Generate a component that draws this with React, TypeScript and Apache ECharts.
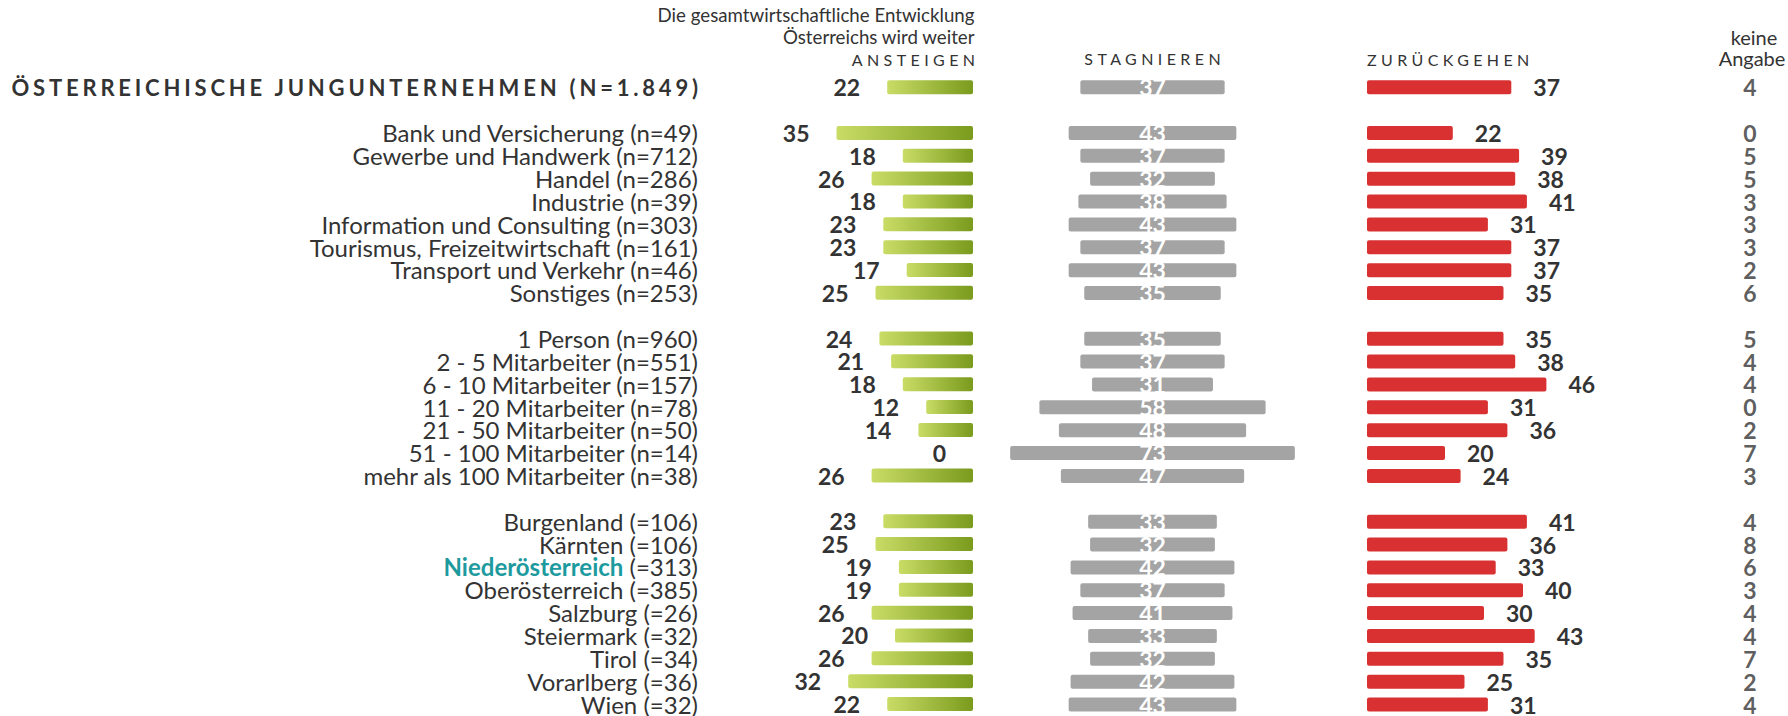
import React, { useEffect, useRef } from "react";
import * as echarts from "echarts";

const categories = [
  "ÖSTERREICHISCHE JUNGUNTERNEHMEN (N=1.849)",
  " ",
  "Bank und Versicherung (n=49)",
  "Gewerbe und Handwerk (n=712)",
  "Handel (n=286)",
  "Industrie (n=39)",
  "Information und Consulting (n=303)",
  "Tourismus, Freizeitwirtschaft (n=161)",
  "Transport und Verkehr (n=46)",
  "Sonstiges (n=253)",
  "  ",
  "1 Person (n=960)",
  "2 - 5 Mitarbeiter (n=551)",
  "6 - 10 Mitarbeiter (n=157)",
  "11 - 20 Mitarbeiter (n=78)",
  "21 - 50 Mitarbeiter (n=50)",
  "51 - 100 Mitarbeiter (n=14)",
  "mehr als 100 Mitarbeiter (n=38)",
  "   ",
  "Burgenland (=106)",
  "Kärnten (=106)",
  "Niederösterreich (=313)",
  "Oberösterreich (=385)",
  "Salzburg (=26)",
  "Steiermark (=32)",
  "Tirol (=34)",
  "Vorarlberg (=36)",
  "Wien (=32)",
];

const ansteigen = [22, null, 35, 18, 26, 18, 23, 23, 17, 25, null, 24, 21, 18, 12, 14, 0, 26, null, 23, 25, 19, 19, 26, 20, 26, 32, 22];
const stagnieren = [37, null, 43, 37, 32, 38, 43, 37, 43, 35, null, 35, 37, 31, 58, 48, 73, 47, null, 33, 32, 42, 37, 41, 33, 32, 42, 43];
const zurueckgehen = [37, null, 22, 39, 38, 41, 31, 37, 37, 35, null, 35, 38, 46, 31, 36, 20, 24, null, 41, 36, 33, 40, 30, 43, 35, 25, 31];
const keineAngabe = [4, null, 0, 5, 5, 3, 3, 3, 2, 6, null, 5, 4, 4, 0, 2, 7, 3, null, 4, 8, 6, 3, 4, 4, 7, 2, 4];

const highlightName = "Niederösterreich";
const headerLines = ["Die gesamtwirtschaftliche Entwicklung", "Österreichs wird weiter"];
const columnTitles = ["ANSTEIGEN", "STAGNIEREN", "ZURÜCKGEHEN"];
const keineTitle = ["keine", "Angabe"];

const FONT = "Lato, 'Noto Sans', sans-serif";
const TXT = "#333333";
const GRAY_MAX = 80;

const TOP = 75.8;
const GRID_BOTTOM = 0;
const CAP_SPACING = 4.4;
const TITLE_SPACING = 3.8;

export default function App() {
  const ref = useRef<HTMLDivElement>(null);

  useEffect(() => {
    if (!ref.current) return;
    const chart = echarts.init(ref.current, null, { renderer: "svg" });

    const greenGradient = new echarts.graphic.LinearGradient(0, 0, 1, 0, [
      { offset: 0, color: "#c9dc66" },
      { offset: 1, color: "#7a9b1d" },
    ]);

    const grayOffset = stagnieren.map((v) => (v == null ? null : (GRAY_MAX - v) / 2));

    const valueLabel = {
      show: true,
      color: TXT,
      fontFamily: FONT,
      fontWeight: "bold" as const,
      fontSize: 23,
    };

    const yAxisBase = {
      type: "category" as const,
      data: categories,
      inverse: true,
      axisLine: { show: false },
      axisTick: { show: false },
      splitLine: { show: false },
    };

    const headerText = (text: string, x: number, y: number, size: number, align: string) => ({
      type: "text",
      x,
      y,
      style: { text, fill: TXT, fontFamily: FONT, fontSize: size, textAlign: align, textVerticalAlign: "middle" },
    });

    const option: any = {
      animation: false,
      backgroundColor: "#ffffff",
      grid: [
        { left: 817, width: 156, top: TOP, bottom: GRID_BOTTOM },
        { left: 996.5, width: 312, top: TOP, bottom: GRID_BOTTOM },
        { left: 1367, width: 195, top: TOP, bottom: GRID_BOTTOM },
        { left: 1720, width: 60, top: TOP, bottom: GRID_BOTTOM },
      ],
      xAxis: [
        { gridIndex: 0, type: "value", min: 0, max: 40, inverse: true, show: false },
        { gridIndex: 1, type: "value", min: 0, max: GRAY_MAX, show: false },
        { gridIndex: 2, type: "value", min: 0, max: 50, show: false },
        { gridIndex: 3, type: "value", min: -1, max: 1, show: false },
      ],
      yAxis: [
        {
          ...yAxisBase,
          gridIndex: 0,
          axisLabel: {
            show: true,
            margin: 119,
            align: "right",
            interval: 0,
            fontFamily: FONT,
            fontSize: 24,
            color: TXT,
            formatter: (v: string, i: number) => {
              if (v.trim() === "") return "";
              if (i === 0) return `{t|${v}}`;
              if (v.startsWith(highlightName)) {
                return `{h|${highlightName}}{n|${v.slice(highlightName.length)}}`;
              }
              return `{n|${v}}`;
            },
            rich: {
              t: { fontFamily: FONT, fontSize: 22, fontWeight: "bold", color: TXT, lineHeight: 22 },
              h: { fontFamily: FONT, fontSize: 24, fontWeight: "bold", color: "#1d9a9e", lineHeight: 22 },
              n: { fontFamily: FONT, fontSize: 24, color: TXT, lineHeight: 22 },
            },
          },
        },
        { ...yAxisBase, gridIndex: 1, show: false },
        { ...yAxisBase, gridIndex: 2, show: false },
        { ...yAxisBase, gridIndex: 3, show: false },
      ],
      series: [
        {
          name: "ansteigen",
          type: "bar",
          xAxisIndex: 0,
          yAxisIndex: 0,
          data: ansteigen,
          barWidth: 14,
          itemStyle: { color: greenGradient, borderRadius: 2 },
          label: { ...valueLabel, position: "left", distance: 27 },
        },
        {
          name: "offset",
          type: "bar",
          stack: "gray",
          xAxisIndex: 1,
          yAxisIndex: 1,
          data: grayOffset,
          barWidth: 14,
          itemStyle: { color: "transparent" },
          label: { show: false },
          silent: true,
        },
        {
          name: "stagnieren",
          type: "bar",
          stack: "gray",
          xAxisIndex: 1,
          yAxisIndex: 1,
          data: stagnieren,
          barWidth: 14,
          itemStyle: { color: "#a4a4a4", borderRadius: 2 },
          label: { ...valueLabel, color: "#ffffff", position: "inside" },
        },
        {
          name: "zurückgehen",
          type: "bar",
          xAxisIndex: 2,
          yAxisIndex: 2,
          data: zurueckgehen,
          barWidth: 14,
          itemStyle: { color: "#d93131", borderRadius: 2 },
          label: { ...valueLabel, position: "right", distance: 22 },
        },
        {
          name: "keine Angabe",
          type: "scatter",
          xAxisIndex: 3,
          yAxisIndex: 3,
          symbolSize: 1,
          itemStyle: { color: "transparent" },
          data: keineAngabe
            .map((k, i) => (k == null ? null : [0, i, k]))
            .filter((d) => d != null),
          label: {
            ...valueLabel,
            position: "inside",
            formatter: (p: any) => String(p.value[2]),
          },
        },
      ],
      graphic: [
        headerText(headerLines[0], 974.5, 15, 18.7, "right"),
        headerText(headerLines[1], 974.5, 37, 18.7, "right"),
        headerText(columnTitles[0], 975 + CAP_SPACING, 59, 16, "right"),
        headerText(columnTitles[1], 1152.5 + CAP_SPACING / 2, 58.5, 16, "center"),
        headerText(columnTitles[2], 1367, 59, 16, "left"),
        headerText(keineTitle[0], 1754, 36.5, 20, "center"),
        headerText(keineTitle[1], 1752, 58, 20, "center"),
      ],
    };

    chart.setOption(option);

    const spacing: Record<string, [number, number]> = {
      [categories[0]]: [TITLE_SPACING, TITLE_SPACING],
      [columnTitles[0]]: [CAP_SPACING, 0],
      [columnTitles[1]]: [CAP_SPACING, 0],
      [columnTitles[2]]: [CAP_SPACING, 0],
    };
    const applySpacing = () => {
      const dom = ref.current;
      if (!dom) return;
      dom.querySelectorAll("text").forEach((t) => {
        const s = t.textContent || "";
        const sp = spacing[s];
        if (sp) {
          t.setAttribute("letter-spacing", String(sp[0]));
          if (sp[1]) t.setAttribute("dx", String(sp[1]));
        }
      });
    };
    applySpacing();
    chart.on("finished", applySpacing);
    const raf = requestAnimationFrame(applySpacing);
    const to = setTimeout(applySpacing, 50);

    return () => {
      cancelAnimationFrame(raf);
      clearTimeout(to);
      chart.dispose();
    };
  }, []);

  return (
    <div
      ref={ref}
      style={{ position: "absolute", left: 0, top: 0, width: 1788, height: 716 }}
    />
  );
}
